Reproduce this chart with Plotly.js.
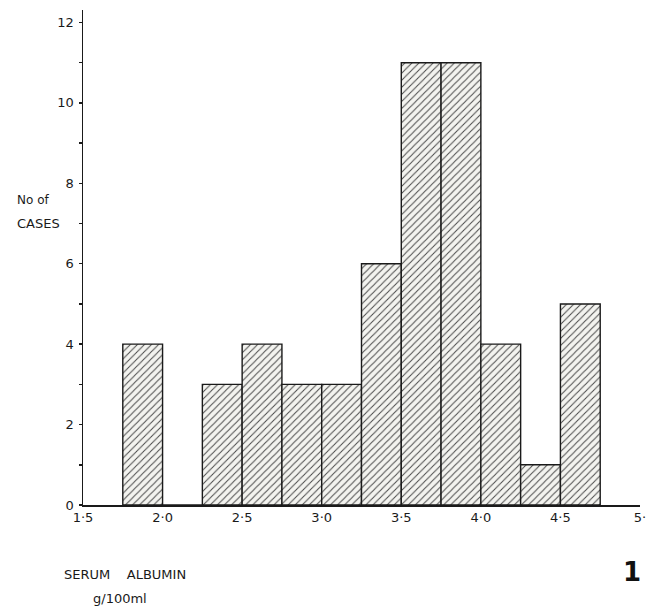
<!DOCTYPE html>
<html>
<head>
<meta charset="utf-8">
<script src="https://cdn.plot.ly/plotly-3.0.1.min.js"></script>
<style>html,body{margin:0;padding:0;background:#fff;}#chart{width:648px;height:607px;}</style>
</head>
<body>
<div id="chart"></div>
<script>
// Bin lower edges (g/100ml) and number of cases
const binStart = [1.75, 2.0, 2.25, 2.5, 2.75, 3.0, 3.25, 3.5, 3.75, 4.0, 4.25, 4.5];
const cases    = [4,    0,   3,    4,   3,    3,   6,    11,  11,   4,   1,    5];
const binWidth = 0.25;

const xTickVals = [1.5, 2.0, 2.5, 3.0, 3.5, 4.0, 4.5, 5.0];
const xTickText = ['1·5', '2·0', '2·5', '3·0', '3·5', '4·0', '4·5', '5·'];
const yTickVals = [0, 1, 2, 3, 4, 5, 6, 7, 8, 9, 10, 11, 12];
const yTickText = ['0', '', '2', '', '4', '', '6', '', '8', '', '10', '', '12'];

const font = 'DejaVu Sans, Liberation Sans, sans-serif';

const trace = {
  type: 'bar',
  x: binStart,
  y: cases,
  width: binStart.map(() => binWidth),
  offset: 0,
  marker: {
    color: '#f3f3ef',
    line: {color: '#1a1a1a', width: 1.4},
    pattern: {shape: '/', size: 5, solidity: 0.2, fgcolor: '#4a4a4a', bgcolor: '#f3f3ef', fillmode: 'replace'}
  },
  hoverinfo: 'x+y'
};

const layout = {
  width: 648, height: 607,
  margin: {l: 83, r: 8, t: 10, b: 102, pad: 0},
  paper_bgcolor: '#ffffff', plot_bgcolor: '#ffffff',
  showlegend: false,
  bargap: 0,
  font: {family: font, size: 12, color: '#1a1a1a'},
  xaxis: {
    range: [1.5, 5.0],
    showgrid: false, zeroline: false,
    showline: true, linecolor: '#1a1a1a', linewidth: 1.5,
    tickmode: 'array', tickvals: xTickVals, ticktext: xTickText,
    ticks: '', tickfont: {family: font, size: 13, color: '#1a1a1a'}
  },
  yaxis: {
    range: [0, 12.31],
    showgrid: false, zeroline: false,
    showline: true, linecolor: '#1a1a1a', linewidth: 1.5,
    tickmode: 'array', tickvals: yTickVals, ticktext: yTickText,
    ticks: 'outside', ticklen: 3, tickwidth: 1.5, tickcolor: '#1a1a1a',
    ticklabelstandoff: 2,
    tickfont: {family: font, size: 13, color: '#1a1a1a'}
  },
  annotations: [
    {text: 'No of', xref: 'paper', yref: 'paper', x: -0.1225, y: 0.616,
     xanchor: 'left', yanchor: 'middle', align: 'left', showarrow: false,
     font: {family: font, size: 12, color: '#1a1a1a'}},
    {text: 'CASES', xref: 'paper', yref: 'paper', x: -0.1225, y: 0.568,
     xanchor: 'left', yanchor: 'middle', align: 'left', showarrow: false,
     font: {family: font, size: 13, color: '#1a1a1a'}},
    {text: 'SERUM\u00a0\u00a0\u00a0\u00a0ALBUMIN', xref: 'paper', yref: 'paper', x: 0.0757, y: -0.1414,
     xanchor: 'center', yanchor: 'middle', showarrow: false,
     font: {family: font, size: 13, color: '#1a1a1a'}},
    {text: 'g/100ml', xref: 'paper', yref: 'paper', x: 0.0667, y: -0.188,
     xanchor: 'center', yanchor: 'middle', showarrow: false,
     font: {family: font, size: 13, color: '#1a1a1a'}},
    {text: '<b>1</b>', xref: 'paper', yref: 'paper', x: 0.985, y: -0.135,
     xanchor: 'center', yanchor: 'middle', showarrow: false,
     font: {family: font, size: 26, color: '#111'}}
  ]
};

Plotly.newPlot('chart', [trace], layout, {displayModeBar: false, staticPlot: true});
</script>
</body>
</html>
